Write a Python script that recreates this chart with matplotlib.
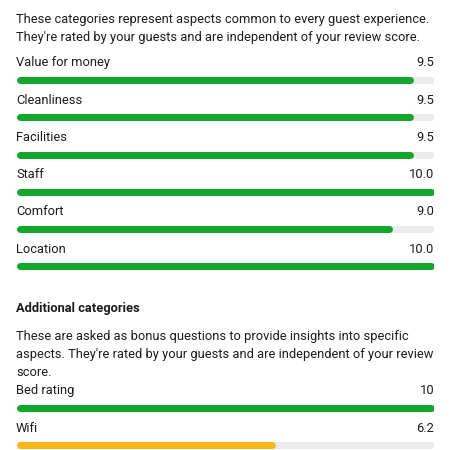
import matplotlib
matplotlib.use("Agg")
import matplotlib.pyplot as plt

plt.rcParams['font.family'] = ['Roboto', 'DejaVu Sans']

header_lines = ["These categories represent aspects common to every guest experience.",
                "They're rated by your guests and are independent of your review score."]
main_categories = ["Value for money", "Cleanliness", "Facilities", "Staff", "Comfort", "Location"]
main_scores = [9.5, 9.5, 9.5, 10.0, 9.0, 10.0]
main_labels = ["9.5", "9.5", "9.5", "10.0", "9.0", "10.0"]

extra_title = "Additional categories"
extra_lines = ["These are asked as bonus questions to provide insights into specific",
               "aspects. They're rated by your guests and are independent of your review",
               "score."]
extra_categories = ["Bed rating", "Wifi"]
extra_scores = [10, 6.2]
extra_labels = ["10", "6.2"]
extra_colors = ["#13a62b", "#f7b61b"]

MAX = 10.0
GREEN = "#13a62b"
TRACK = "#ebebeb"
TEXT = "#1c1c1c"

W, H, DPI = 450, 450, 100
fig = plt.figure(figsize=(W / DPI, H / DPI), dpi=DPI)
fig.patch.set_facecolor("white")
ax = fig.add_axes([16 / W, 0, 418 / W, 1])
ax.set_xlim(0, MAX)
ax.set_ylim(H, 0)
ax.axis("off")

bar_px = 7.0
lw_pt = bar_px * 72 / DPI
r = (bar_px / 2) / (418 / MAX)  # cap radius in data units

FS = 9.3

def bar(y, value, color):
    ax.plot([r, MAX - r], [y, y], color=TRACK, lw=lw_pt, solid_capstyle="round")
    ax.plot([r, value - r], [y, y], color=color, lw=lw_pt, solid_capstyle="round")

def label_row(yb, name, val):
    ax.text(0, yb, name, ha="left", va="baseline", fontsize=FS, color=TEXT)
    ax.text(MAX, yb, val, ha="right", va="baseline", fontsize=FS, color=TEXT)

# header
for i, line in enumerate(header_lines):
    ax.text(0, 22.7 + 18 * i, line, ha="left", va="baseline", fontsize=FS, color=TEXT)

main_base = [66, 104, 141, 178.3, 215.3, 252.7]
main_bar_y = [80.2, 117.2, 154.5, 191.5, 229, 266]
for name, v, lab, yb, yc in zip(main_categories, main_scores, main_labels, main_base, main_bar_y):
    label_row(yb, name, lab)
    bar(yc, v, GREEN)

ax.text(0, 311.7, extra_title, ha="left", va="baseline", fontsize=FS, color=TEXT, fontweight="bold")
for i, line in enumerate(extra_lines):
    ax.text(0, 340 + 18 * i, line, ha="left", va="baseline", fontsize=FS, color=TEXT)

extra_base = [394.3, 431.7]
extra_bar_y = [407.8, 445.2]
for name, v, lab, yb, yc, c in zip(extra_categories, extra_scores, extra_labels, extra_base, extra_bar_y, extra_colors):
    label_row(yb, name, lab)
    bar(yc, v, c)

fig.savefig("out.png", dpi=DPI)
